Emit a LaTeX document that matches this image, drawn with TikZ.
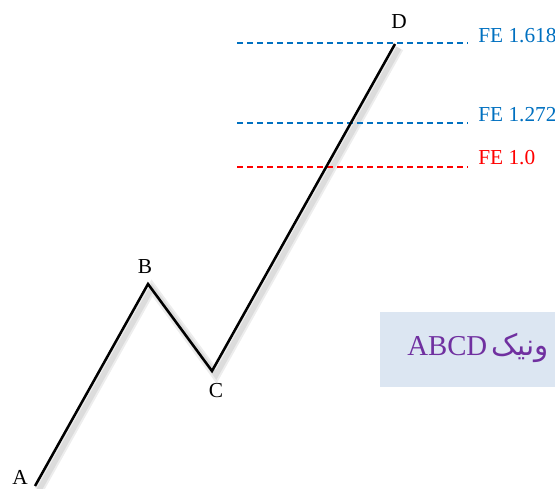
\documentclass[tikz,border=0pt]{standalone}
\usepackage{fontspec}
\setmainfont{Liberation Serif}
\newfontfamily\arabicfont[Script=Arabic]{DejaVu Sans}
\TeXXeTstate=1
\usepackage{tikz}
\usetikzlibrary{positioning}

\definecolor{feblue}{RGB}{0,112,192}
\definecolor{fered}{RGB}{255,0,0}
\definecolor{boxblue}{RGB}{220,230,242}
\definecolor{titlepurple}{RGB}{112,48,160}

\begin{document}
\begin{tikzpicture}[
    x=0.75pt, y=-0.75pt,
    leg/.style={line width=1.9pt, line join=miter},
    legshadow/.style={line width=#1, draw=black, opacity=0.07, transform canvas={xshift=3pt, yshift=-3pt}},
    level/.style={draw=#1, dash pattern=on 4.5pt off 3pt, line width=0.9pt},
    felbl/.style={font=\fontsize{16}{19}\selectfont, inner xsep=7.5pt, anchor=base west},
    ptlbl/.style={font=\fontsize{16}{19}\selectfont, inner sep=1pt},
    titlebox/.style={fill=boxblue, inner sep=0pt, minimum width=142.5pt, minimum height=56.25pt, anchor=north west}
  ]
    \useasboundingbox (0,0) rectangle (555,488);
    \clip (0,0) rectangle (555,488);

    % pattern points
    \coordinate (a) at (35,486);
    \coordinate (b) at (148,284);
    \coordinate (c) at (212,371);
    \coordinate (d) at (395,44);

    % soft shadow of the legs
    \draw[legshadow=7pt] (a) -- (b) -- (c) -- (d);
    \draw[legshadow=4pt] (a) -- (b) -- (c) -- (d);

    % levels
    \node[felbl, text=feblue] (fe1618) at (468,43) {FE 1.618};
    \node[felbl, text=feblue] (fe1272) at (468,122) {FE 1.272};
    \node[felbl, text=fered] (fe10) at (468,165) {FE 1.0};
    \coordinate (s1618) at (237,43);
    \coordinate (s1272) at (237,123);
    \coordinate (s10) at (237,167);
    \draw[level=feblue] (s1618) -- (s1618 -| fe1618.west);
    \draw[level=feblue] (s1272) -- (s1272 -| fe1272.west);
    \draw[level=fered] (s10) -- (s10 -| fe10.west);

    % legs
    \draw[leg] (a) -- (b) -- (c) -- (d);

    \node[ptlbl] (la) at (20,477) {A};
    \node[ptlbl] (lb) at (145,267) {B};
    \node[ptlbl] (lc) at (216,391) {C};
    \node[ptlbl] (ld) at (399,22) {D};

    % title box
    \node[titlebox] (titlebox) at (380,312) {};
    \node[anchor=base west, inner sep=0pt, text=titlepurple, font=\fontsize{21.6}{26}\selectfont] (title) at (407,355)
      {\beginR{\arabicfont\fontsize{22}{26}\selectfont ونیک}\kern3pt\beginL ABCD\endL\endR};
\end{tikzpicture}
\end{document}
